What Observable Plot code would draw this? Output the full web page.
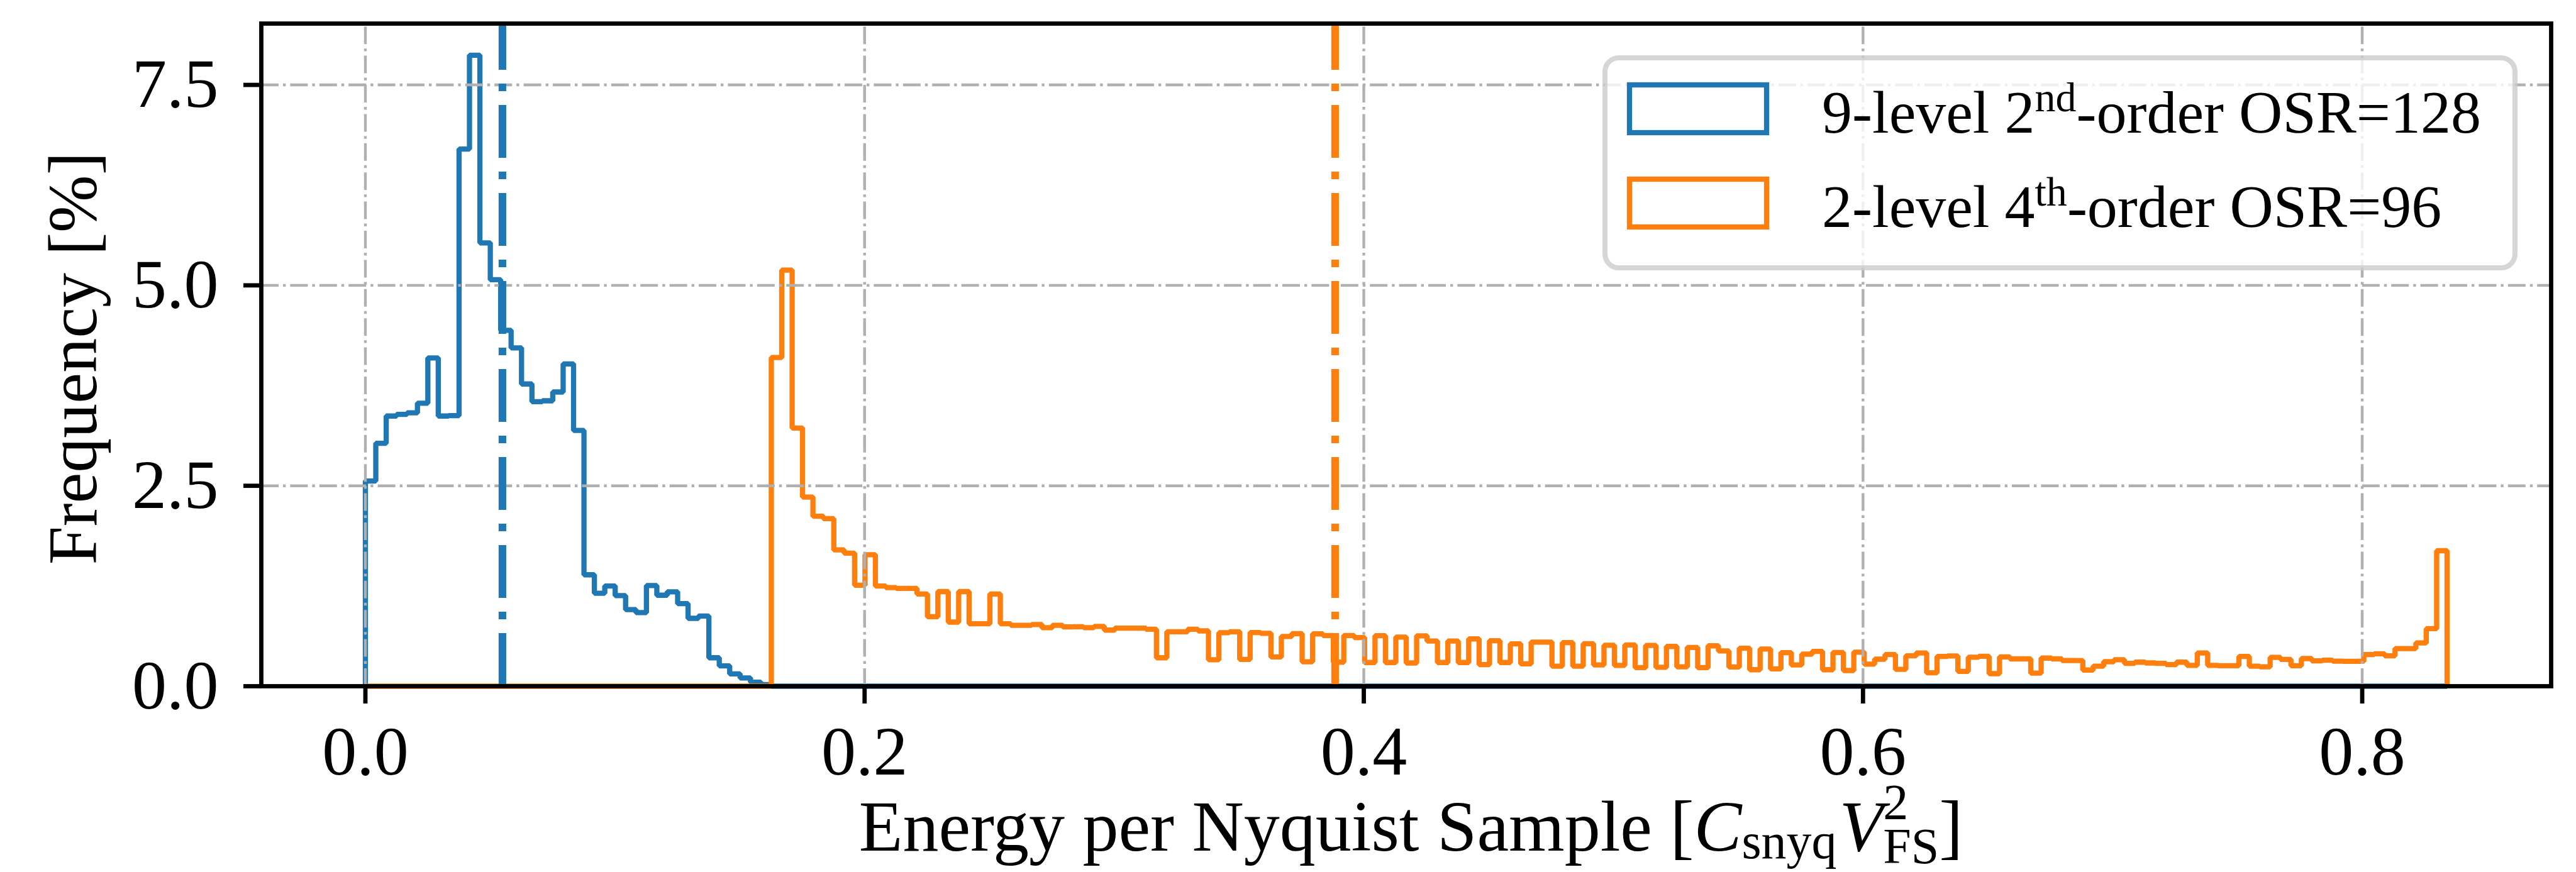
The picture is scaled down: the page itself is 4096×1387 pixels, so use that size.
<!DOCTYPE html>
<html><head><meta charset="utf-8">
<script src="https://cdn.jsdelivr.net/npm/d3@7"></script>
<script src="https://cdn.jsdelivr.net/npm/@observablehq/plot@0.6"></script>
<style>
html,body{margin:0;padding:0;background:#fff;}
#chart{width:4096px;height:1387px;}
</style></head><body><div id="chart"></div>
<script>
// ---------- data ----------
const binRange = [0, 0.834];
const binCount = 200;
const seriesNames = ["9-level 2nd-order OSR=128", "2-level 4th-order OSR=96"];
const legendParts = [["9-level 2", "nd", "-order OSR=128"], ["2-level 4", "th", "-order OSR=96"]];
const seriesColors = ["#1f77b4", "#ff7f0e"];
const blueStartBin = 0;
const blueFreq = [2.56, 3.03, 3.37, 3.39, 3.41, 3.53, 4.095, 3.37, 3.375, 6.70,
  7.87, 5.53, 5.07, 4.44, 4.22, 3.77, 3.55, 3.56, 3.67, 4.02,
  3.19, 1.39, 1.16, 1.25, 1.13, 0.955, 0.918, 1.255, 1.135, 1.178,
  1.03, 0.847, 0.875, 0.355, 0.254, 0.154, 0.103, 0.05, 0.02];
const orangeStartBin = 39;
const orangeFreq = [4.10, 5.19, 3.22, 2.36, 2.12, 2.09, 1.70, 1.66, 1.26, 1.64,
  1.25, 1.23, 1.22, 1.22, 1.15, 0.867, 1.18, 0.80, 1.18, 0.78,
  0.78, 1.15, 0.78, 0.76, 0.76, 0.77, 0.73, 0.76, 0.74, 0.742,
  0.73, 0.746, 0.70, 0.724, 0.724, 0.724, 0.71, 0.355, 0.68, 0.68,
  0.71, 0.69, 0.33, 0.667, 0.68, 0.335, 0.67, 0.66, 0.365, 0.62,
  0.655, 0.305, 0.653, 0.633, 0.30, 0.633, 0.607, 0.296, 0.63, 0.296,
  0.613, 0.29, 0.629, 0.563, 0.296, 0.563, 0.296, 0.59, 0.27, 0.567,
  0.296, 0.528, 0.28, 0.55, 0.55, 0.25, 0.544, 0.25, 0.53, 0.266,
  0.51, 0.26, 0.514, 0.232, 0.508, 0.236, 0.496, 0.242, 0.484, 0.232,
  0.504, 0.44, 0.24, 0.474, 0.206, 0.464, 0.216, 0.419, 0.266, 0.40,
  0.434, 0.206, 0.421, 0.196, 0.425, 0.276, 0.337, 0.395, 0.21, 0.379,
  0.415, 0.167, 0.371, 0.377, 0.186, 0.361, 0.373, 0.157, 0.365, 0.341,
  0.341, 0.163, 0.351, 0.341, 0.321, 0.321, 0.202, 0.25, 0.306, 0.331,
  0.286, 0.30, 0.29, 0.286, 0.27, 0.30, 0.26, 0.415, 0.26, 0.256,
  0.256, 0.371, 0.25, 0.242, 0.359, 0.335, 0.256, 0.345, 0.317, 0.325,
  0.313, 0.31, 0.31, 0.395, 0.405, 0.38, 0.47, 0.47, 0.54, 0.718, 1.69];
const meanValues = [0.0549, 0.3885];
const xTicks = [0, 0.2, 0.4, 0.6, 0.8];
const yTicks = [0, 2.5, 5, 7.5];
const xDomain = [-0.0417, 0.8757];
const yDomain = [0, 8.265];
const xLabelParts = {main: "Energy per Nyquist Sample [", c: "C", cSub: "snyq", v: "V", vSup: "2", vSub: "FS", end: "]"};
const yLabel = "Frequency [%]";

// ---------- build step outlines ----------
const binW = (binRange[1] - binRange[0]) / binCount;
function stepPoints(start, vals, series) {
  const full = Array.from({length: binCount}, (_, i) =>
    (i >= start && i < start + vals.length) ? vals[i - start] : 0);
  const pts = [{x: binRange[0], y: 0, s: series}];
  full.forEach((v, i) => pts.push({x: binRange[0] + i * binW, y: v, s: series}));
  pts.push({x: binRange[1], y: 0, s: series});
  return pts;
}
const bluePts = stepPoints(blueStartBin, blueFreq, seriesNames[0]);
const orangePts = stepPoints(orangeStartBin, orangeFreq, seriesNames[1]);

const FONT = "'Liberation Serif', 'Times New Roman', serif";
const gridStyle = {stroke: "#b0b0b0", strokeOpacity: 1, strokeWidth: 4.4, strokeDasharray: "28,7,4.4,7"};

const plot = Plot.plot({
  width: 4096, height: 1387,
  marginLeft: 415, marginRight: 40, marginTop: 37, marginBottom: 296,
  x: {domain: xDomain, label: null},
  y: {domain: yDomain, label: null},
  style: {fontFamily: FONT, fontSize: "110px", background: "white", color: "black", overflow: "visible"},
  marks: [
    Plot.line(bluePts, {x: "x", y: "y", curve: "step-after", stroke: seriesColors[0], strokeWidth: 8.3, strokeLinejoin: "miter", strokeLinecap: "butt"}),
    Plot.line(orangePts, {x: "x", y: "y", curve: "step-after", stroke: seriesColors[1], strokeWidth: 8.3, strokeLinejoin: "miter", strokeLinecap: "butt"}),
    Plot.ruleY(yTicks, gridStyle),
    Plot.ruleX(xTicks, {x: d => d, y1: yDomain[0], y2: yDomain[1], ...gridStyle}),
    Plot.ruleX([meanValues[0]], {x: d => d, y1: yDomain[0], y2: yDomain[1], stroke: seriesColors[0], strokeWidth: 12.1, strokeDasharray: "84,22,12,22"}),
    Plot.ruleX([meanValues[1]], {x: d => d, y1: yDomain[0], y2: yDomain[1], stroke: seriesColors[1], strokeWidth: 12.1, strokeDasharray: "84,22,12,22"}),
    Plot.frame({stroke: "black", strokeWidth: 6.8}),
    Plot.axisX(xTicks, {tickSize: 28, strokeWidth: 6.8, tickPadding: 34, tickFormat: d => d.toFixed(1), label: null, fontSize: 110}),
    Plot.axisY(yTicks, {tickSize: 28, strokeWidth: 6.8, tickPadding: 40, tickFormat: d => d.toFixed(1), label: null, fontSize: 110})
  ]
});
document.getElementById("chart").appendChild(plot);

// ---------- axis labels with sub/superscripts ----------
const svg = d3.select(plot);
const xs = plot.scale("x"), ys = plot.scale("y");
const plotLeft = xs.apply(xDomain[0]), plotRight = xs.apply(xDomain[1]);
const plotTop = ys.apply(yDomain[1]), plotBottom = ys.apply(yDomain[0]);

const XL = 114, XS = 80;
const xt = svg.append("text")
  .attr("x", (plotLeft + plotRight) / 2 + 8).attr("y", plotBottom + 262)
  .attr("text-anchor", "middle").attr("font-family", FONT).attr("font-size", XL).attr("fill", "black");
xt.append("tspan").text(xLabelParts.main);
xt.append("tspan").attr("font-style", "italic").text(xLabelParts.c);
xt.append("tspan").attr("font-size", XS).attr("dy", 12).text(xLabelParts.cSub);
xt.append("tspan").attr("font-style", "italic").attr("dy", -12).attr("dx", 4).text(xLabelParts.v);
xt.append("tspan").attr("font-size", XS).attr("dy", -50).text(xLabelParts.vSup);
xt.append("tspan").attr("font-size", XS).attr("dx", -XS * 0.5).attr("dy", 70).text(xLabelParts.vSub);
xt.append("tspan").attr("dy", -20).text(xLabelParts.end);

svg.append("text")
  .attr("transform", `translate(153,${(plotTop + plotBottom) / 2 + 6}) rotate(-90)`)
  .attr("text-anchor", "middle").attr("font-family", FONT).attr("font-size", 110).attr("fill", "black")
  .text(yLabel);

// ---------- legend ----------
const lg = svg.append("g");
lg.append("rect").attr("x", 2552).attr("y", 92).attr("width", 1447).attr("height", 334).attr("rx", 22)
  .attr("fill", "white").attr("fill-opacity", 0.8).attr("stroke", "#cccccc").attr("stroke-opacity", 0.8).attr("stroke-width", 8);
legendParts.forEach((parts, i) => {
  const base = 211 + i * 150;
  lg.append("rect").attr("x", 2591).attr("y", base - 76).attr("width", 218).attr("height", 76)
    .attr("fill", "none").attr("stroke", seriesColors[i]).attr("stroke-width", 8.3).attr("stroke-linejoin", "miter");
  const t = lg.append("text").attr("x", 2897).attr("y", base).attr("text-anchor", "start")
    .attr("font-family", FONT).attr("font-size", 96).attr("fill", "black");
  t.append("tspan").text(parts[0]);
  t.append("tspan").attr("font-size", 66).attr("dy", -34).text(parts[1]);
  t.append("tspan").attr("dy", 34).text(parts[2]);
});
</script></body></html>
